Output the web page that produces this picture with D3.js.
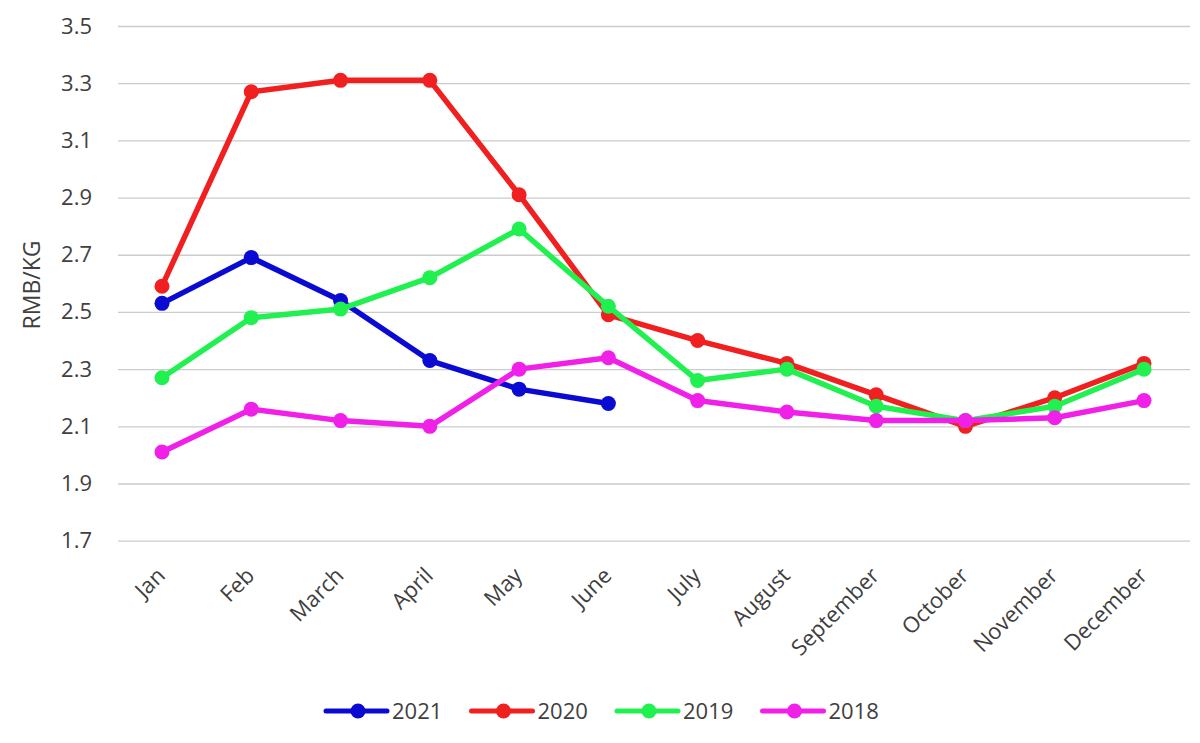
<!DOCTYPE html>
<html>
<head>
<meta charset="utf-8">
<script src="https://cdn.jsdelivr.net/npm/d3@7"></script>
<style>
  body { margin: 0; background: #fff; }
  svg { display: block; }
  text { font-family: "Open Sans", "Noto Sans", sans-serif; fill: #404040; }
</style>
</head>
<body>
<svg id="chart" width="1200" height="743"></svg>
<script>
const months = ["Jan","Feb","March","April","May","June","July","August","September","October","November","December"];
const yTicks = [1.7, 1.9, 2.1, 2.3, 2.5, 2.7, 2.9, 3.1, 3.3, 3.5];
const years = ["2021", "2020", "2019", "2018"];
const colors = ["#0a0ad2", "#f02020", "#20f050", "#f020e8"];
const v2021 = [2.53, 2.69, 2.54, 2.33, 2.23, 2.18];
const v2020 = [2.59, 3.27, 3.31, 3.31, 2.91, 2.49, 2.40, 2.32, 2.21, 2.10, 2.20, 2.32];
const v2019 = [2.27, 2.48, 2.51, 2.62, 2.79, 2.52, 2.26, 2.30, 2.17, 2.12, 2.17, 2.30];
const v2018 = [2.01, 2.16, 2.12, 2.10, 2.30, 2.34, 2.19, 2.15, 2.12, 2.12, 2.13, 2.19];

const seriesVals = {"2021": v2021, "2020": v2020, "2019": v2019, "2018": v2018};
const drawOrder = ["2020", "2021", "2019", "2018"];

const svg = d3.select("#chart");
const x = d3.scalePoint().domain(months).range([162, 1144]);
const y = d3.scaleLinear().domain([1.7, 3.5]).range([540.7, 26]);
const color = d3.scaleOrdinal().domain(years).range(colors);

// gridlines
const yAxis = d3.axisLeft(y).tickValues(yTicks).tickFormat(d3.format(".1f")).tickSize(-(1190 - 118)).tickPadding(26);
const gy = svg.append("g").attr("transform", "translate(118,0)").call(yAxis);
gy.select(".domain").remove();
gy.selectAll(".tick line").attr("stroke", "#cccccc").attr("stroke-width", 1.3);
gy.selectAll(".tick text").attr("font-size", 22).style("fill", "#404040");

// x axis labels
const xAxis = d3.axisBottom(x).tickSize(0);
const gx = svg.append("g").attr("transform", "translate(0,560)").call(xAxis);
gx.select(".domain").remove();
gx.selectAll(".tick text")
  .attr("font-size", 22)
  .style("fill", "#404040")
  .attr("text-anchor", "end")
  .attr("transform", "translate(4,17) rotate(-45)")
  .attr("dy", 0)
  .attr("y", 0);

// y label
svg.append("text")
  .attr("transform", "translate(40,285) rotate(-90)")
  .attr("text-anchor", "middle")
  .attr("font-size", 23)
  .text("RMB/KG");

const line = d3.line().x((d, i) => x(months[i])).y(d => y(d));

drawOrder.forEach(yr => {
  const vals = seriesVals[yr];
  const g = svg.append("g");
  g.append("path").datum(vals)
    .attr("d", line)
    .attr("fill", "none")
    .attr("stroke", color(yr))
    .attr("stroke-width", 5.5)
    .attr("stroke-linejoin", "round");
  g.selectAll("circle").data(vals).join("circle")
    .attr("cx", (d, i) => x(months[i]))
    .attr("cy", d => y(d))
    .attr("r", 7.5)
    .attr("fill", color(yr));
});

// legend
const legend = svg.append("g").attr("transform", "translate(326,711)");
years.forEach((yr, i) => {
  const g = legend.append("g").attr("transform", `translate(${i * 145.5},0)`);
  g.append("line").attr("x1", 0).attr("x2", 61).attr("y1", 0).attr("y2", 0)
    .attr("stroke", color(yr)).attr("stroke-width", 5).attr("stroke-linecap", "round");
  g.append("circle").attr("cx", 32).attr("cy", 0).attr("r", 7.5).attr("fill", color(yr));
  g.append("text").attr("x", 66).attr("y", 0).attr("dy", "0.35em").attr("font-size", 22).text(yr);
});
</script>
</body>
</html>
